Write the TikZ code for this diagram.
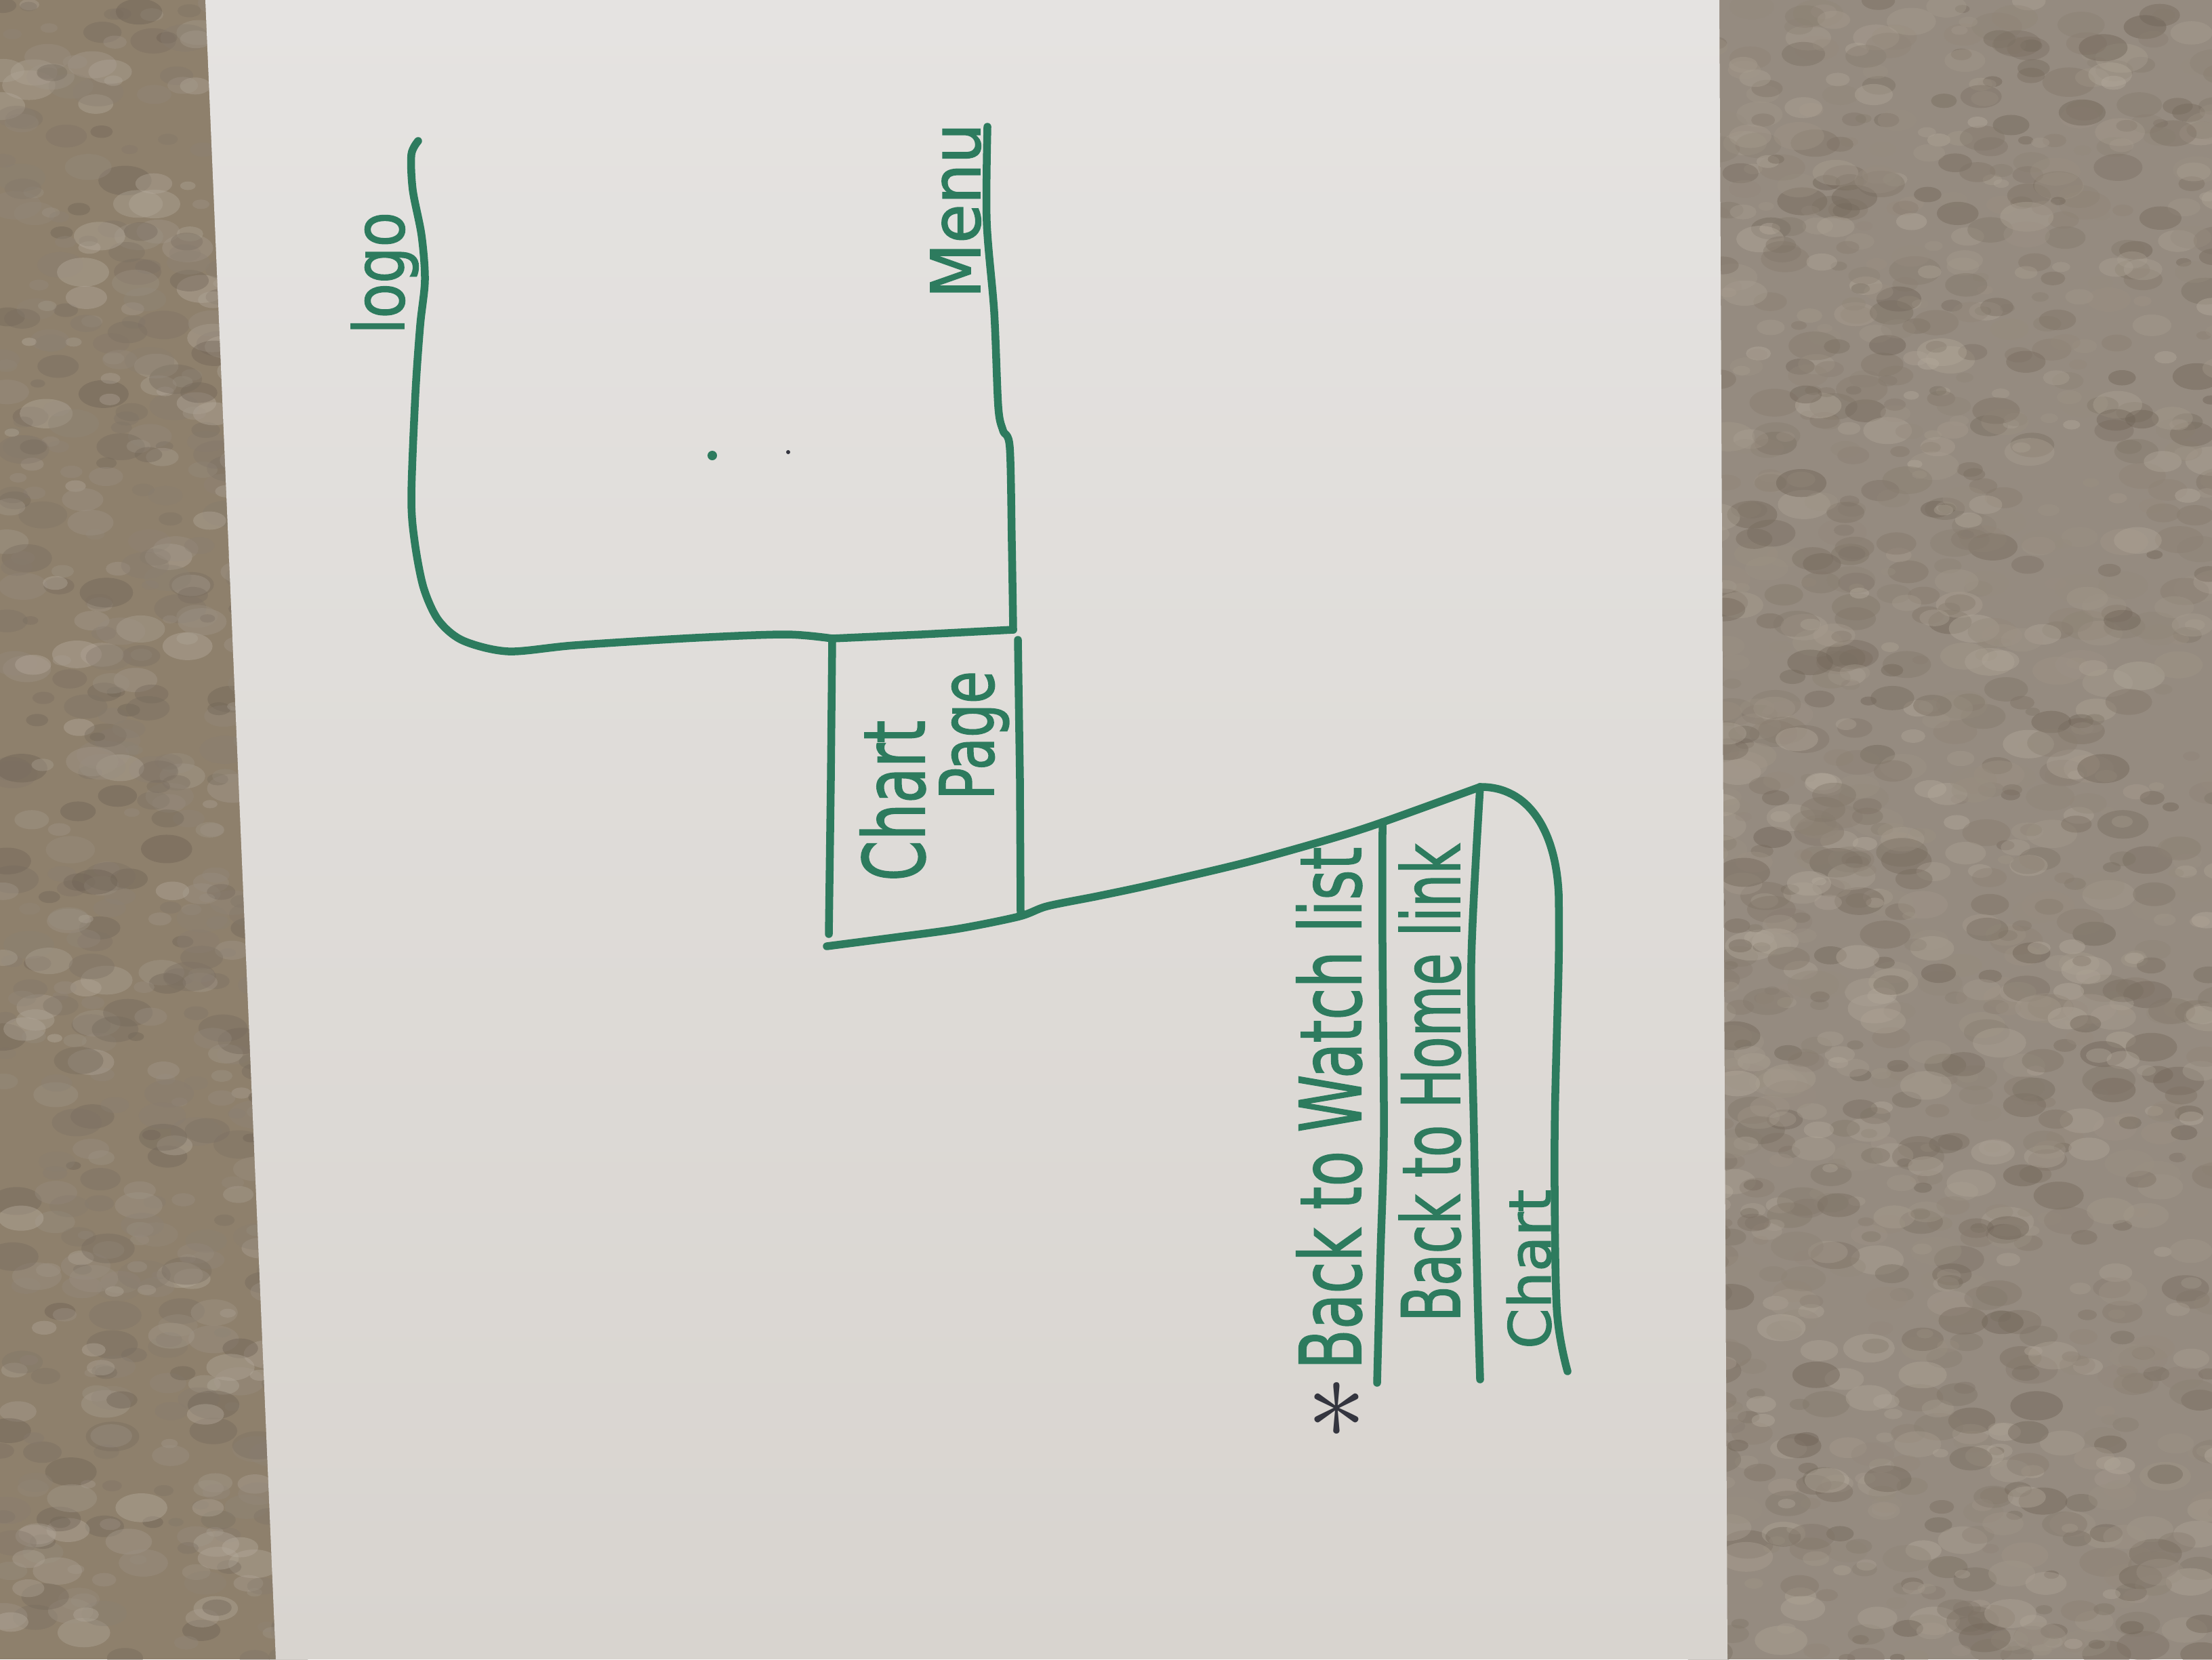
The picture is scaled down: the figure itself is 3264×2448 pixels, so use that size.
\documentclass[tikz,border=0pt]{standalone}
\usepackage{fontspec}
\setmainfont{DejaVu Sans}
\newfontfamily\handfont[FakeBold=1.6]{DejaVu Sans}
\usepackage{graphicx}
\definecolor{inkgreen}{HTML}{2D7B5E}
\definecolor{pencil}{HTML}{34353F}
\definecolor{carpetleft}{HTML}{8E806C}
\definecolor{carpetright}{HTML}{958B80}
\definecolor{carpetlight}{HTML}{B7AD9F}
\definecolor{carpetdark}{HTML}{6B5F52}
\definecolor{papertop}{HTML}{E5E3E1}
\definecolor{paperbottom}{HTML}{D8D4CF}
% text squeezed into a given length (along the writing) and ascender height
\newcommand{\hw}[3]{\resizebox{#1}{#2}{\handfont #3}}
\begin{document}
\begin{tikzpicture}[x=0.01cm, y=-0.01cm,
  ink/.style={draw=inkgreen, line width=1.15mm, line cap=round, line join=round},
  hand/.style={inner sep=0pt, outer sep=0pt, rotate=90, anchor=base west, text=inkgreen}]
\useasboundingbox (0,0) rectangle (3264,2448);

% carpet
\fill[carpetleft] (0,0) rectangle (1600,2448);
\fill[carpetright] (1600,0) rectangle (3264,2448);
\pgfmathsetseed{11}
\foreach \i in {1,...,700}{
  \pgfmathsetmacro\xx{rnd*440}
  \pgfmathsetmacro\yy{rnd*2448}
  \pgfmathsetmacro\rr{6+rnd*16}
  \pgfmathsetmacro\cc{rnd*100}
  \fill[carpetlight!\cc!carpetdark, opacity=0.4] (\xx,\yy) ellipse [x radius=\rr*1.8, y radius=\rr];
}
\foreach \i in {1,...,1400}{
  \pgfmathsetmacro\xx{2520+rnd*760}
  \pgfmathsetmacro\yy{rnd*2448}
  \pgfmathsetmacro\rr{6+rnd*16}
  \pgfmathsetmacro\cc{rnd*100}
  \fill[carpetlight!\cc!carpetdark, opacity=0.4] (\xx,\yy) ellipse [x radius=\rr*1.8, y radius=\rr];
}

% sheet of paper
\shade[top color=papertop, bottom color=paperbottom]
  (303,0) -- (2537,0) -- (2549,2448) -- (407,2448) -- cycle;

% junction points
\coordinate (logoTop) at (617,208);
\coordinate (menuTop) at (1457,187);
\coordinate (boxTL) at (1228,942);
\coordinate (boxTR) at (1495,929);
\coordinate (boxBR) at (1504,1352);
\coordinate (d1T) at (2040,1213);
\coordinate (d2T) at (2184,1161);
\coordinate (d1B) at (2032,2040);
\coordinate (d2B) at (2184,2035);
\coordinate (rB) at (2313,2023);

% labels
\node[hand] (logo) at (596,493) {\hw{1.80cm}{0.78cm}{logo}};
\node[hand] (menu) at (1446,440) {\hw{2.58cm}{0.73cm}{Menu}};
\node[hand] (chartA) at (1364,1300) {\hw{2.37cm}{0.95cm}{Chart}};
\node[hand] (page) at (1466,1180) {\hw{1.90cm}{0.80cm}{Page}};
\node[hand] (watch) at (2008,2020) {\hw{7.70cm}{0.95cm}{Back to Watch list}};
\node[hand] (home) at (2154,1950) {\hw{7.05cm}{0.90cm}{Back to Home link}};
\node[hand] (chartB) at (2288,1990) {\hw{2.35cm}{0.65cm}{Chart}};
\node[inner sep=0pt, text=pencil] (star) at (1972,2080) {\resizebox{0.88cm}{!}{$\ast$}};

% logo branch
\draw[ink] plot[smooth, tension=0.5] coordinates {(logoTop) (607,228) (609,280) (622,347) (627,413)
  (620,480) (613,580) (607,733) (612,800) (625,867) (647,915) (683,945) (750,961) (848,952)
  (1026,941) (1160,936) (boxTL)};
% menu branch
\draw[ink] plot[smooth, tension=0.5] coordinates {(menuTop) (1456,327) (1467,460) (1473,600)
  (1480,635) (1490,660) (1493,800) (boxTR)};
% chart page box
\draw[ink] (boxTL) -- (1360,936) -- (boxTR);
\draw[ink] (boxTL) -- (1226,1150) -- (1223,1378);
\draw[ink] (1502,944) -- (1505,1150) -- (1506,1348);
% link to the list
\draw[ink] plot[smooth, tension=0.5] coordinates {(1220,1396) (1320,1383) (1415,1370) (boxBR)
  (1545,1337) (1620,1322) (1700,1305) (1840,1272) (1965,1237) (d1T) (d2T)};
% list outline
\draw[ink] (d2T) .. controls (2255,1160) and (2296,1225) .. (2300,1320);
\draw[ink] plot[smooth, tension=0.5] coordinates {(2300,1320) (2300,1420) (2294,1674) (2297,1929) (rB)};
\draw[ink] plot[smooth, tension=0.5] coordinates {(d1T) (2040,1400) (2042,1674) (2037,1850) (d1B)};
\draw[ink] plot[smooth, tension=0.5] coordinates {(d2T) (2171,1419) (2175,1674) (2180,1900) (d2B)};

% stray dots
\fill[inkgreen] (1051,672) circle [radius=7];
\fill[pencil] (1163,667) circle [radius=3];
\end{tikzpicture}
\end{document}
